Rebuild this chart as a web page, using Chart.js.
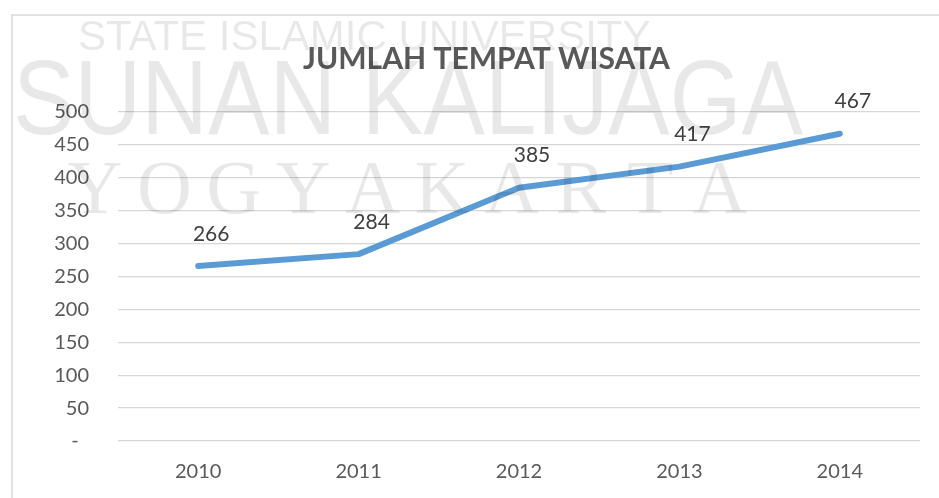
<!DOCTYPE html>
<html>
<head>
<meta charset="utf-8">
<script src="https://cdn.jsdelivr.net/npm/chart.js@4.4.1/dist/chart.umd.min.js"></script>
<style>
  body { margin: 0; background: #fff; }
  #wrap { width: 939px; height: 498px; position: relative; }
</style>
</head>
<body>
<div id="wrap"><canvas id="myChart"></canvas></div>
<script>
// data block
const years = ["2010", "2011", "2012", "2013", "2014"];
const jumlah = [266, 284, 385, 417, 467];
const yTicks = [0, 50, 100, 150, 200, 250, 300, 350, 400, 450, 500];

const lineColor = "#5B9BD5";
const textColor = "#595959";
const gridColor = "#d6d6d6";

// frame + watermark (drawn over the chart, semi transparent like the scan)
const framePlugin = {
  id: "frame",
  beforeDraw(chart) {
    const ctx = chart.ctx;
    ctx.save();
    ctx.strokeStyle = "#d9d9d9";
    ctx.lineWidth = 1.5;
    ctx.strokeRect(12, 15, 1000, 1000);
    ctx.restore();
  },
};

const watermarkPlugin = {
  id: "watermark",
  afterDraw(chart) {
    const ctx = chart.ctx;
    ctx.save();
    ctx.fillStyle = "rgba(0, 0, 0, 0.09)";
    ctx.textAlign = "left";
    ctx.textBaseline = "alphabetic";
    ctx.font = "42px 'Liberation Sans'";
    ctx.fillText("STATE ISLAMIC UNIVERSITY", 78, 50, 657);
    ctx.font = "106px 'Liberation Sans'";
    ctx.fillText("SUNAN KALIJAGA", 13, 134, 790);
    ctx.font = "76px 'Liberation Serif'";
    ctx.textAlign = "center";
    const letters = "YOGYAKARTA".split("");
    letters.forEach((ch, i) => {
      ctx.fillText(ch, 95 + i * 69.4, 213);
    });
    ctx.restore();
  },
};

// value labels above each point
const valueLabels = {
  id: "valueLabels",
  afterDatasetsDraw(chart) {
    const ctx = chart.ctx;
    const meta = chart.getDatasetMeta(0);
    ctx.save();
    ctx.font = "21px Lato";
    ctx.fillStyle = "#404040";
    ctx.textAlign = "center";
    ctx.textBaseline = "middle";
    meta.data.forEach((pt, i) => {
      ctx.fillText(String(jumlah[i]), pt.x + 13, pt.y - 32);
    });
    ctx.restore();
  },
};

const data = {
  labels: years,
  datasets: [
    {
      label: "Jumlah Tempat Wisata",
      data: jumlah,
      borderColor: lineColor,
      backgroundColor: lineColor,
      borderWidth: 6,
      pointRadius: 0,
      borderCapStyle: "round",
      borderJoinStyle: "round",
      tension: 0,
    },
  ],
};

const config = {
  type: "line",
  data: data,
  options: {
    responsive: true,
    maintainAspectRatio: false,
    animation: false,
    layout: { padding: { left: 53, right: 19, top: 0, bottom: 0 } },
    plugins: {
      legend: { display: false },
      tooltip: { enabled: false },
      title: {
        display: true,
        text: "JUMLAH TEMPAT WISATA",
        color: textColor,
        font: { family: "Lato", size: 30, weight: "bold" },
        padding: { top: 41, bottom: 35 },
      },
    },
    scales: {
      x: {
        offset: true,
        grid: { display: false, drawTicks: false },
        border: { display: false },
        ticks: {
          color: textColor,
          font: { family: "Lato", size: 20 },
          padding: 19,
        },
        afterFit(s) { s.height = 57; },
      },
      y: {
        min: 0,
        max: 500,
        afterBuildTicks(s) { s.ticks = yTicks.map(v => ({ value: v })); },
        grid: { color: gridColor, lineWidth: 1.3, drawTicks: false },
        border: { display: false },
        ticks: {
          color: textColor,
          font: { family: "Lato", size: 20 },
          padding: 29,
          callback: v => (v === 0 ? "-  " : v),
        },
        afterFit(s) { s.width = 65; },
      },
    },
  },
  plugins: [framePlugin, valueLabels, watermarkPlugin],
};

const myChart = new Chart(document.getElementById("myChart"), config);
</script>
</body>
</html>
